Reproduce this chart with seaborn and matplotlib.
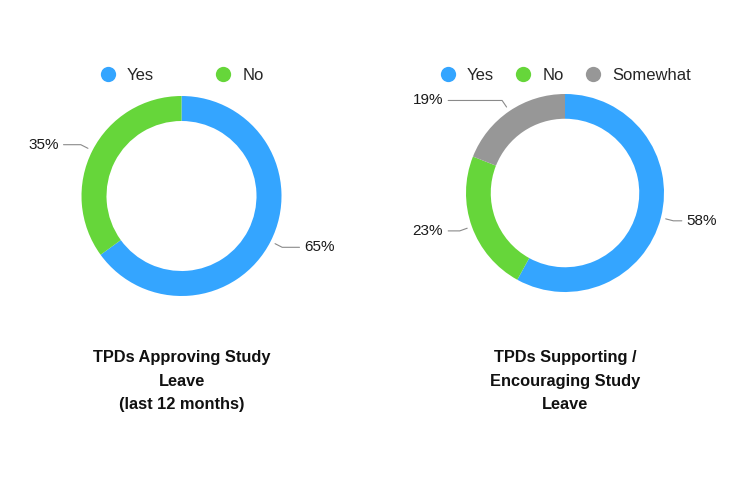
import numpy as np
import matplotlib
matplotlib.use("Agg")
import matplotlib.pyplot as plt
from matplotlib.lines import Line2D
import seaborn as sns

# ---- data ----
left_categories = ["Yes", "No"]
left_values = [65, 35]
left_title = "TPDs Approving Study\nLeave\n(last 12 months)"

right_categories = ["Yes", "No", "Somewhat"]
right_values = [58, 23, 19]
right_title = "TPDs Supporting /\nEncouraging Study\nLeave"

color_map = {"Yes": "#34A5FF", "No": "#66D63A", "Somewhat": "#979797"}

sns.set_theme(style="white")
plt.rcParams["font.family"] = ["Liberation Sans", "DejaVu Sans"]

W, H = 750, 478
fig = plt.figure(figsize=(W / 100, H / 100), dpi=100)
fig.patch.set_facecolor("white")


def donut(cx, cy, R, cats, vals, title, colspacing):
    ax = fig.add_axes([(cx - R) / W, 1 - (cy + R) / H, 2 * R / W, 2 * R / H])
    ax.set_xlim(-1, 1)
    ax.set_ylim(-1, 1)
    ax.set_aspect("equal")
    ax.axis("off")
    cols = [color_map[c] for c in cats]
    ax.pie(vals, colors=cols, startangle=90, counterclock=False, radius=1,
           wedgeprops=dict(width=0.25, linewidth=0))
    ax.set_xlim(-1, 1)
    ax.set_ylim(-1, 1)
    total = float(sum(vals))
    cum = 0.0
    for v in vals:
        theta = np.deg2rad(90 - (cum + v / 2) / total * 360)
        cum += v
        c, s = np.cos(theta), np.sin(theta)
        sign = 1 if c >= 0 else -1
        x0, y0 = 1.05 * c, 1.05 * s
        x1, y1 = 1.13 * c, 1.13 * s
        x2 = sign * max(1.18, abs(x1) + 0.05)
        ax.plot([x0, x1, x2], [y0, y1, y1], color="#8a8a8a", lw=0.8,
                clip_on=False, solid_joinstyle="miter")
        ax.text(x2 + sign * 0.05, y1, f"{v:.0f}%", ha="left" if sign > 0 else "right",
                va="center", fontsize=11, color="#1a1a1a", clip_on=False)
    handles = [Line2D([], [], marker="o", linestyle="none", markersize=11,
                      markerfacecolor=color_map[c], markeredgewidth=0) for c in cats]
    ax.legend(handles, cats, loc="center",
              bbox_to_anchor=(0.5, 0.5 + (cy - 75) / (2 * R)), ncol=len(cats),
              frameon=False, fontsize=12, handlelength=1.0, handletextpad=0.64,
              columnspacing=colspacing, borderpad=0, borderaxespad=0)
    fig.text(cx / W, 1 - 350 / H, title, ha="center", va="top", fontsize=11.8,
             fontweight="bold", color="#111111", linespacing=1.72)
    return ax


donut(181.5, 196, 100, left_categories, left_values, left_title, 3.65)
donut(565, 193, 99, right_categories, right_values, right_title, 1.26)

fig.savefig("out.png", dpi=100, facecolor="white")
